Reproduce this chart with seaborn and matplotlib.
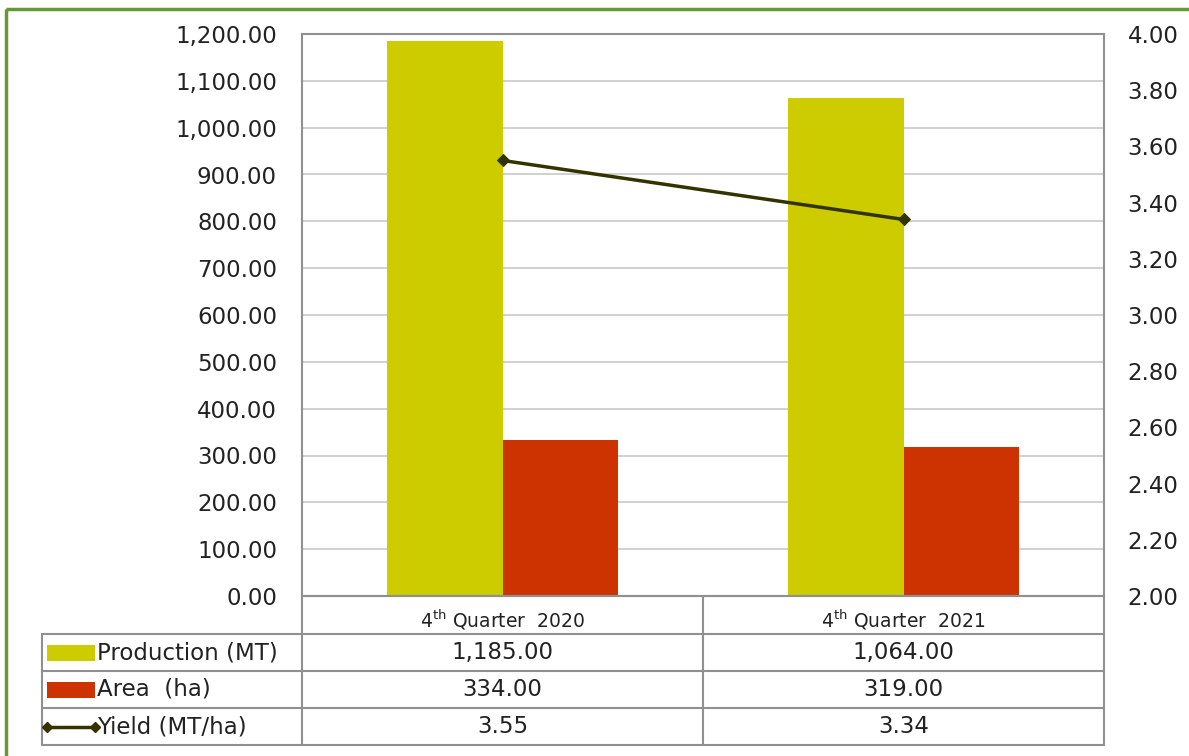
import numpy as np
import pandas as pd
import matplotlib
matplotlib.use("Agg")
import matplotlib.pyplot as plt
from matplotlib.patches import Rectangle
from matplotlib.lines import Line2D
import seaborn as sns

quarters = ["4th Quarter 2020", "4th Quarter 2021"]
quarter_labels = [r"4$^{\mathrm{th}}$ Quarter  2020", r"4$^{\mathrm{th}}$ Quarter  2021"]
production = [1185.00, 1064.00]
area = [334.00, 319.00]
yield_ = [3.55, 3.34]

series_names = ["Production (MT)", "Area  (ha)", "Yield (MT/ha)"]
bar_colors = ["#CCCC00", "#CC3300"]
line_color = "#333300"

sns.set_style("white")
plt.rcParams["font.family"] = ["DejaVu Sans"]
plt.rcParams["mathtext.fontset"] = "dejavusans"

df = pd.DataFrame({
    "quarter": quarters * 2,
    "series": [series_names[0]] * 2 + [series_names[1]] * 2,
    "value": production + area,
})

W, H = 1189, 756
fig = plt.figure(figsize=(W / 100, H / 100), dpi=100)
fig.patch.set_facecolor("white")

fs = 16.5
txt = "#222222"

# plot area in pixels
x0, x1, ytop, ybot = 302, 1104, 34, 596
ax = fig.add_axes([x0 / W, 1 - ybot / H, (x1 - x0) / W, (ybot - ytop) / H])

sns.barplot(data=df, x="quarter", y="value", hue="series",
            palette=bar_colors, width=0.575, gap=0, saturation=1,
            edgecolor="none", linewidth=0, ax=ax, legend=False)
ax.set_ylim(0, 1200)
ax.set_yticks(np.arange(0, 1201, 100))
ax.set_yticklabels([f"{v:,.2f}" for v in np.arange(0, 1201, 100)], fontsize=fs, color=txt)
ax.yaxis.grid(True, color="#C8C8C8", linewidth=1.2)
ax.set_axisbelow(True)
ax.set_xticks([])
ax.set_xlabel("")
ax.set_ylabel("")
ax.set_xlim(-0.5, 1.5)
ax.tick_params(axis="y", length=0, pad=18)
for s in ax.spines.values():
    s.set_color("#909090")
    s.set_linewidth(1.5)

ax2 = ax.twinx()
sns.lineplot(x=[0, 1], y=yield_, color=line_color, marker="D", markersize=6,
             markeredgecolor=line_color, linewidth=2.5, ax=ax2)
ax2.set_ylim(2.0, 4.0)
ax2.set_yticks(np.arange(2.0, 4.01, 0.2))
ax2.set_yticklabels([f"{v:.2f}" for v in np.arange(2.0, 4.01, 0.2)], fontsize=fs, color=txt)
ax2.tick_params(axis="y", length=0, pad=17)
ax2.set_ylabel("")
ax2.set_xlim(-0.5, 1.5)
for s in ax2.spines.values():
    s.set_visible(False)

# data table below the chart
tab = fig.add_axes([0, 0, 1, 1], zorder=5)
tab.set_xlim(0, W)
tab.set_ylim(H, 0)
tab.axis("off")
tab.patch.set_alpha(0)

gc = "#909090"
lw = 1.5
tx0 = 42
rows = [596, 634, 671, 708, 745]
cols = [tx0, x0, (x0 + x1) / 2, x1]
# horizontal lines
tab.plot([x0, x1], [rows[0], rows[0]], color=gc, lw=lw)
for y in rows[1:]:
    tab.plot([tx0, x1], [y, y], color=gc, lw=lw)
# vertical lines
tab.plot([tx0, tx0], [rows[1], rows[-1]], color=gc, lw=lw)
for x in cols[1:]:
    tab.plot([x, x], [rows[0], rows[-1]], color=gc, lw=lw)

centers = [(cols[1] + cols[2]) / 2, (cols[2] + cols[3]) / 2]
for cx, lab in zip(centers, quarter_labels):
    tab.text(cx, (rows[0] + rows[1]) / 2 + 5, lab, ha="center", va="center", fontsize=13.5, color=txt)

table_values = [
    [f"{v:,.2f}" for v in production],
    [f"{v:,.2f}" for v in area],
    [f"{v:.2f}" for v in yield_],
]
for i, vals in enumerate(table_values):
    yc = (rows[i + 1] + rows[i + 2]) / 2
    for cx, v in zip(centers, vals):
        tab.text(cx, yc, v, ha="center", va="center", fontsize=fs, color=txt)
    tab.text(97, yc, series_names[i], ha="left", va="center", fontsize=16.5, color=txt)
    if i < 2:
        tab.add_patch(Rectangle((47, yc - 8), 48, 16, facecolor=bar_colors[i], edgecolor="none"))
    else:
        tab.add_line(Line2D([47, 95], [yc, yc], color=line_color, lw=2.5,
                            marker="D", markersize=5, markevery=[0, 1]))

# outer green frame
tab.add_patch(Rectangle((6, 9), W + 20, H + 20, facecolor="none", edgecolor="#669933", lw=2.5))

fig.savefig("out.png", dpi=100)
